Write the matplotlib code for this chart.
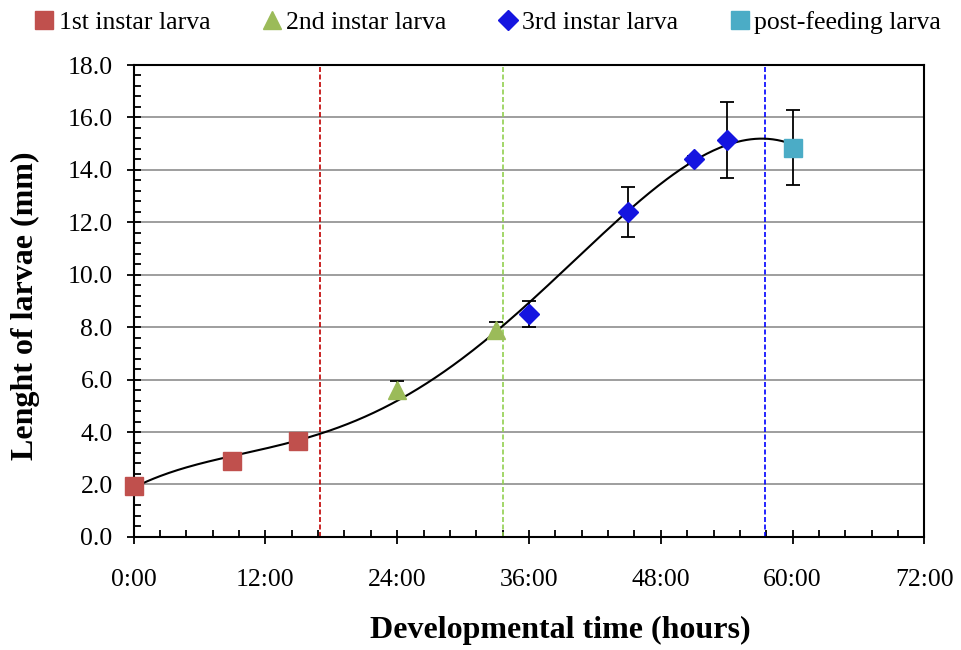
import numpy as np
import matplotlib
matplotlib.use("Agg")
import matplotlib.pyplot as plt
from matplotlib.ticker import MultipleLocator, FuncFormatter

plt.rcParams["font.family"] = ["Liberation Serif", "DejaVu Serif"]

# datos (horas, mm)
t_l1 = [0, 9, 15]
y_l1 = [1.95, 2.88, 3.66]
e_l1 = [0.05, 0.08, 0.12]

t_l2 = [24, 33]
y_l2 = [5.6, 7.9]
e_l2 = [0.35, 0.3]

t_l3 = [36, 45, 51, 54]
y_l3 = [8.5, 12.4, 14.4, 15.15]
e_l3 = [0.5, 0.95, 0.12, 1.45]

t_pf = [60]
y_pf = [14.85]
e_pf = [1.42]

# limites entre estadios
lim_l1 = 17
lim_l2 = 33.6
lim_l3 = 57.5

fig, ax = plt.subplots(figsize=(9.61, 6.5), dpi=100)
fig.subplots_adjust(left=0.139, right=0.962, bottom=0.174, top=0.9)

# linea de tendencia polinomica sobre todos los puntos
t_all = np.array(t_l1 + t_l2 + t_l3 + t_pf, dtype=float)
y_all = np.array(y_l1 + y_l2 + y_l3 + y_pf, dtype=float)
coef = np.polyfit(t_all, y_all, 4)
tt = np.linspace(0, 60, 300)
ax.plot(tt, np.polyval(coef, tt), color="black", lw=1.5, zorder=4)

for x, c in [(lim_l1, "#C00000"), (lim_l2, "#92D050"), (lim_l3, "#0000FF")]:
    ax.axvline(x, ymin=0, ymax=1, color=c, ls=(0, (3, 1.5)), lw=1.2, zorder=2)

series = [
    (t_l1, y_l1, e_l1, "s", "#C0504D", 12.5, "1st instar larva"),
    (t_l2, y_l2, e_l2, "^", "#9BBB59", 12.5, "2nd instar larva"),
    (t_l3, y_l3, e_l3, "D", "#1515E0", 10.5, "3rd instar larva"),
    (t_pf, y_pf, e_pf, "s", "#4BACC6", 12.5, "post-feeding larva"),
]
for t, y, e, m, c, ms, lab in series:
    ax.errorbar(t, y, yerr=e, fmt="none", ecolor="black", elinewidth=1.3,
                capsize=5, capthick=1.3, zorder=3)
    ax.plot(t, y, ls="none", marker=m, color=c, markersize=ms, label=lab,
            zorder=5, clip_on=False)

ax.set_xlim(0, 72)
ax.set_ylim(0, 18)
ax.xaxis.set_major_locator(MultipleLocator(12))
ax.xaxis.set_minor_locator(MultipleLocator(2.4))
ax.yaxis.set_major_locator(MultipleLocator(2))
ax.yaxis.set_minor_locator(MultipleLocator(0.4))
ax.xaxis.set_major_formatter(FuncFormatter(lambda v, p: "%d:00" % int(round(v))))
ax.yaxis.set_major_formatter(FuncFormatter(lambda v, p: "%.1f" % v))
ax.tick_params(which="major", direction="inout", length=10, width=1.3,
               labelsize=18.5)
ax.tick_params(axis="x", which="major", pad=18)
ax.tick_params(axis="y", which="major", pad=10)
ax.tick_params(which="minor", direction="in", length=5, width=1.3)
ax.grid(axis="y", color="#969696", lw=1.3, zorder=1)
ax.set_axisbelow(True)
for s in ax.spines.values():
    s.set_linewidth(1.5)

ax.set_xlabel("Developmental time (hours)", fontsize=23, fontweight="bold")
ax.xaxis.set_label_coords(0.539, -0.168)
ax.set_ylabel("Lenght of larvae (mm)", fontsize=23, fontweight="bold")
ax.yaxis.set_label_coords(-0.118, 0.49)

fig.legend(loc="upper center", bbox_to_anchor=(0.506, 1.018), ncol=4, frameon=False,
           fontsize=18.5, handletextpad=0.05, columnspacing=1.9, handlelength=1.0)

plt.savefig("out.png", dpi=100)
